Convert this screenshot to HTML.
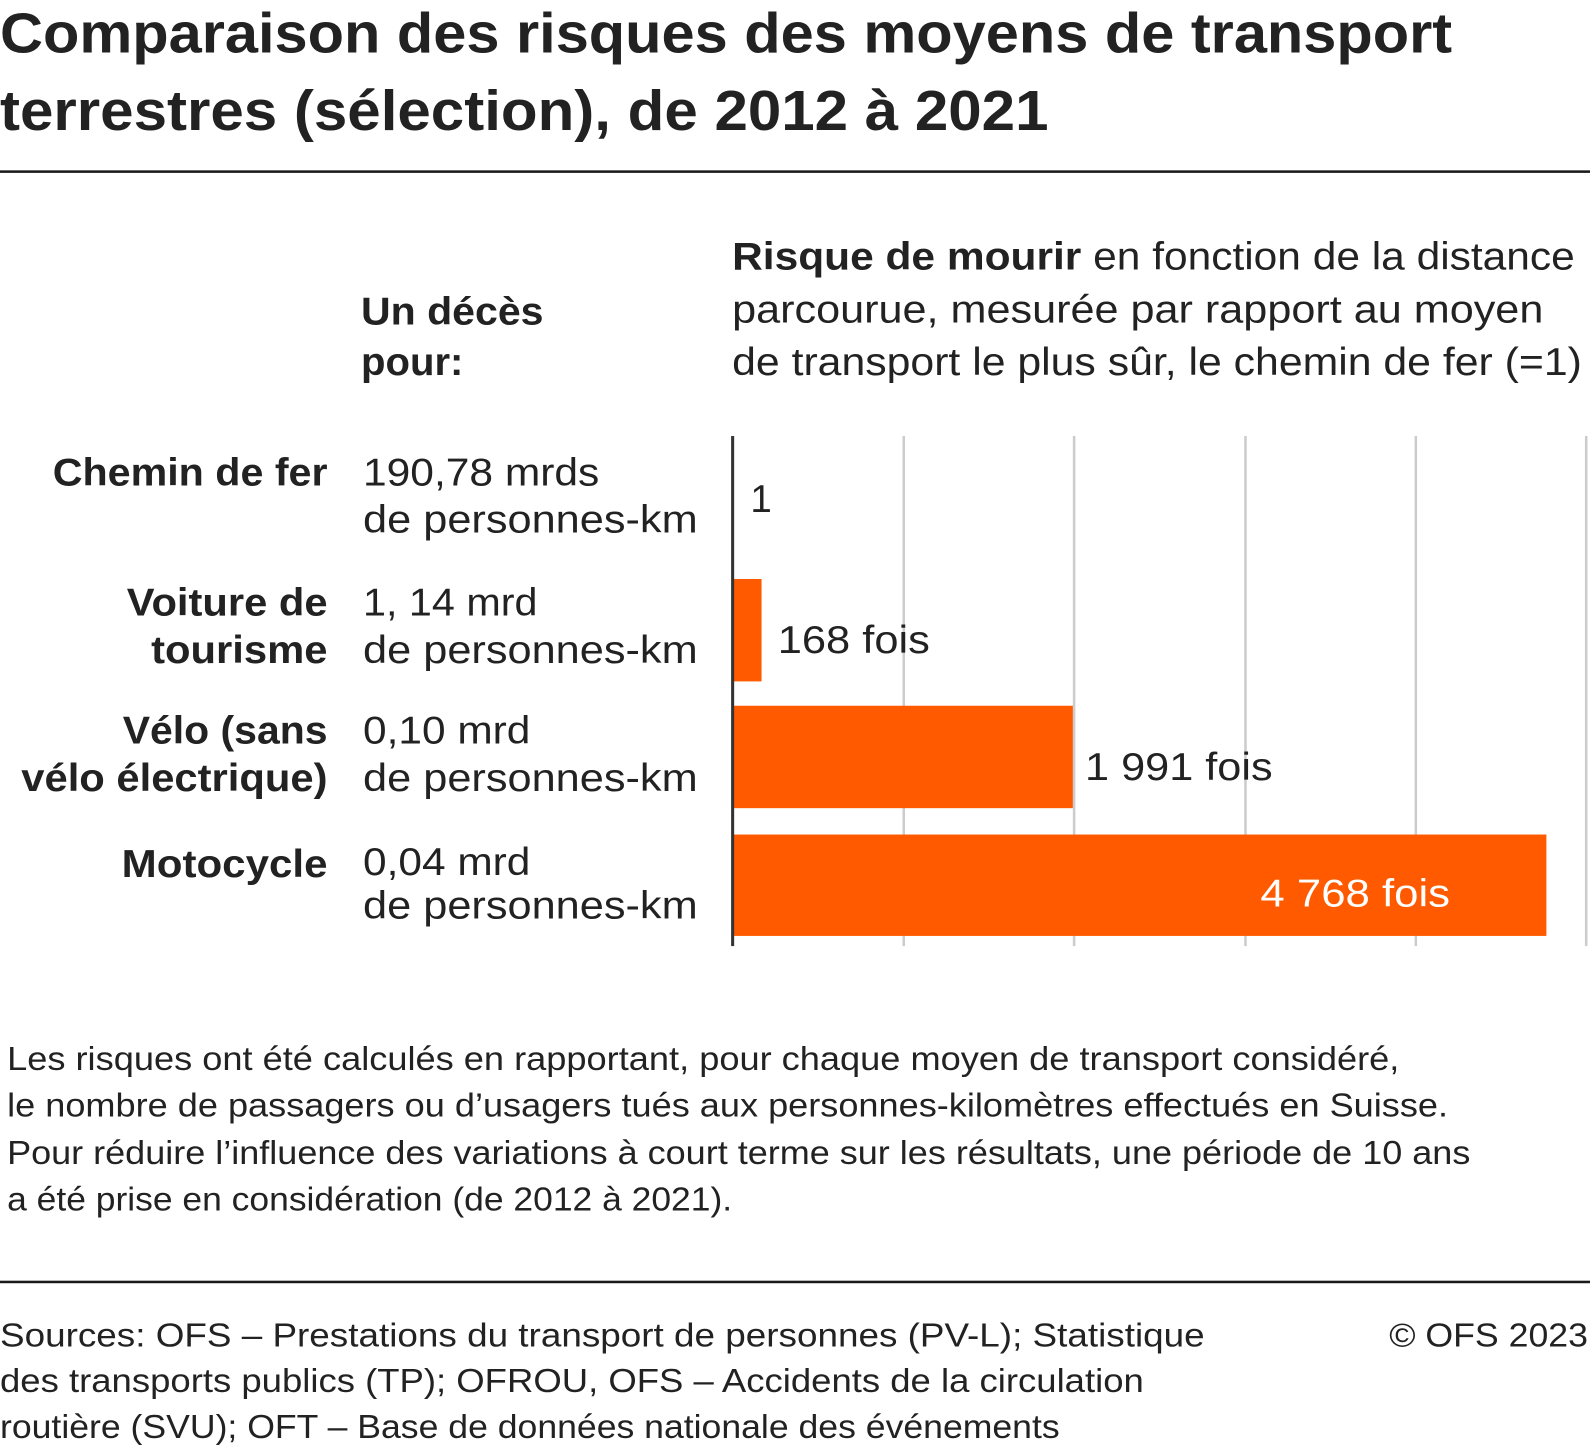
<!DOCTYPE html>
<html><head><meta charset="utf-8"><style>
html,body{margin:0;padding:0;background:#fff;}
svg{display:block;}
text{font-family:"Liberation Sans",sans-serif;fill:#222;}
.b{font-weight:bold;}
</style></head><body>
<svg width="1590" height="1448" viewBox="0 0 1568 1428" preserveAspectRatio="none" xmlns="http://www.w3.org/2000/svg">
<rect width="1568" height="1428" fill="#fff"/>
<g lengthAdjust="spacingAndGlyphs">
<text class="b" x="0" y="52" font-size="56" textLength="1432" lengthAdjust="spacingAndGlyphs">Comparaison des risques des moyens de transport</text>
<text class="b" x="0" y="128" font-size="56" textLength="1034" lengthAdjust="spacingAndGlyphs">terrestres (sélection), de 2012 à 2021</text>
</g>
<rect x="0" y="168" width="1568" height="2.5" fill="#1a1a1a"/>

<text class="b" x="356" y="320" font-size="38" textLength="180" lengthAdjust="spacingAndGlyphs">Un décès</text>
<text class="b" x="356" y="370" font-size="38" textLength="101" lengthAdjust="spacingAndGlyphs">pour:</text>

<text x="722" y="266" font-size="38" textLength="831" lengthAdjust="spacingAndGlyphs"><tspan font-weight="bold">Risque de mourir</tspan> en fonction de la distance</text>
<text x="722" y="318" font-size="38" textLength="800" lengthAdjust="spacingAndGlyphs">parcourue, mesurée par rapport au moyen</text>
<text x="722" y="370" font-size="38" textLength="838" lengthAdjust="spacingAndGlyphs">de transport le plus sûr, le chemin de fer (=1)</text>

<g fill="#ccc">
<rect x="890" y="430" width="2.5" height="503"/>
<rect x="1058" y="430" width="2.5" height="503"/>
<rect x="1227" y="430" width="2.5" height="503"/>
<rect x="1395" y="430" width="2.5" height="503"/>
<rect x="1563" y="430" width="2.5" height="503"/>
</g>
<g fill="#ff5a00">
<rect x="723" y="571" width="28" height="101"/>
<rect x="723" y="696" width="335" height="101"/>
<rect x="723" y="823" width="802" height="100"/>
</g>
<rect x="721" y="430" width="3" height="503" fill="#333"/>

<text x="740" y="505" font-size="38">1</text>
<text x="767" y="644" font-size="38" textLength="150" lengthAdjust="spacingAndGlyphs">168 fois</text>
<text x="1070" y="769" font-size="38" textLength="185" lengthAdjust="spacingAndGlyphs">1 991 fois</text>
<text x="1243" y="894" font-size="38" textLength="187" lengthAdjust="spacingAndGlyphs" style="fill:#fff">4 768 fois</text>

<g text-anchor="end" class="b" font-size="38">
<text class="b" x="323" y="479" textLength="271" lengthAdjust="spacingAndGlyphs">Chemin de fer</text>
<text class="b" x="323" y="607" textLength="198" lengthAdjust="spacingAndGlyphs">Voiture de</text>
<text class="b" x="323" y="654" textLength="174" lengthAdjust="spacingAndGlyphs">tourisme</text>
<text class="b" x="323" y="733" textLength="202" lengthAdjust="spacingAndGlyphs">Vélo (sans</text>
<text class="b" x="323" y="780" textLength="302" lengthAdjust="spacingAndGlyphs">vélo électrique)</text>
<text class="b" x="323" y="865" textLength="203" lengthAdjust="spacingAndGlyphs">Motocycle</text>
</g>

<g font-size="38">
<text x="358" y="479" textLength="233" lengthAdjust="spacingAndGlyphs">190,78 mrds</text>
<text x="358" y="525" textLength="330" lengthAdjust="spacingAndGlyphs">de personnes-km</text>
<text x="358" y="607" textLength="172" lengthAdjust="spacingAndGlyphs">1, 14 mrd</text>
<text x="358" y="654" textLength="330" lengthAdjust="spacingAndGlyphs">de personnes-km</text>
<text x="358" y="733" textLength="165" lengthAdjust="spacingAndGlyphs">0,10 mrd</text>
<text x="358" y="780" textLength="330" lengthAdjust="spacingAndGlyphs">de personnes-km</text>
<text x="358" y="863" textLength="165" lengthAdjust="spacingAndGlyphs">0,04 mrd</text>
<text x="358" y="906" textLength="330" lengthAdjust="spacingAndGlyphs">de personnes-km</text>
</g>

<g font-size="33">
<text x="7" y="1055" textLength="1373" lengthAdjust="spacingAndGlyphs">Les risques ont été calculés en rapportant, pour chaque moyen de transport considéré,</text>
<text x="7" y="1101" textLength="1421" lengthAdjust="spacingAndGlyphs">le nombre de passagers ou d’usagers tués aux personnes-kilomètres effectués en Suisse.</text>
<text x="7" y="1148" textLength="1443" lengthAdjust="spacingAndGlyphs">Pour réduire l’influence des variations à court terme sur les résultats, une période de 10 ans</text>
<text x="7" y="1194" textLength="715" lengthAdjust="spacingAndGlyphs">a été prise en considération (de 2012 à 2021).</text>
</g>

<rect x="0" y="1263" width="1568" height="2.5" fill="#1a1a1a"/>

<g font-size="33" style="fill:#333">
<text x="0" y="1328" textLength="1188" lengthAdjust="spacingAndGlyphs">Sources: OFS – Prestations du transport de personnes (PV-L); Statistique</text>
<text x="0" y="1373" textLength="1128" lengthAdjust="spacingAndGlyphs">des transports publics (TP); OFROU, OFS – Accidents de la circulation</text>
<text x="0" y="1418" textLength="1045" lengthAdjust="spacingAndGlyphs">routière (SVU); OFT – Base de données nationale des événements</text>
<text x="1566" y="1328" text-anchor="end" textLength="196" lengthAdjust="spacingAndGlyphs">© OFS 2023</text>
</g>
</svg>
</body></html>
